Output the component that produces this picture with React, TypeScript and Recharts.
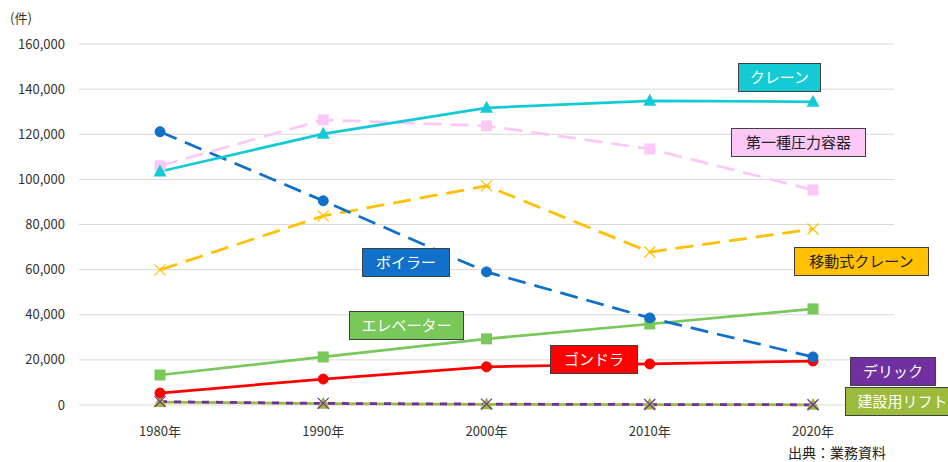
import React from 'react';
import { LineChart, Line, XAxis, YAxis, CartesianGrid } from 'recharts';

const years = ['1980年', '1990年', '2000年', '2010年', '2020年'];
const crane = [103500, 120200, 131700, 134800, 134400];
const pressureVessel = [106000, 126400, 123700, 113500, 95300];
const boiler = [121100, 90500, 59000, 38600, 21300];
const mobileCrane = [59900, 83800, 97100, 67800, 78000];
const elevator = [13300, 21300, 29300, 35900, 42600];
const gondola = [5300, 11500, 16900, 18200, 19500];
const derrick = [1500, 700, 400, 200, 100];
const lift = [1300, 600, 300, 200, 100];
const yTicks = [0, 20000, 40000, 60000, 80000, 100000, 120000, 140000, 160000];

const data = years.map((year, i) => ({
  year,
  crane: crane[i],
  pressureVessel: pressureVessel[i],
  boiler: boiler[i],
  mobileCrane: mobileCrane[i],
  elevator: elevator[i],
  gondola: gondola[i],
  derrick: derrick[i],
  lift: lift[i],
}));

const FONT = '"Noto Sans CJK JP", "Noto Sans", sans-serif';

type Shape = 'circle' | 'square' | 'triangle' | 'cross';

function makeDot(shape: Shape, color: string) {
  return (props: any) => {
    const { cx, cy, index } = props;
    const key = `${shape}-${color}-${index}`;
    if (cx == null || cy == null) return <g key={key} />;
    if (shape === 'circle') return <circle key={key} cx={cx} cy={cy} r={5} fill={color} stroke={color} />;
    if (shape === 'square') return <rect key={key} x={cx - 5.5} y={cy - 5.5} width={11} height={11} fill={color} />;
    if (shape === 'triangle')
      return (
        <polygon
          key={key}
          points={`${cx},${cy - 7} ${cx - 6.5},${cy + 5} ${cx + 6.5},${cy + 5}`}
          fill={color}
        />
      );
    return (
      <g key={key} stroke={color} strokeWidth={1.2}>
        <line x1={cx - 5.5} y1={cy - 5.5} x2={cx + 5.5} y2={cy + 5.5} />
        <line x1={cx - 5.5} y1={cy + 5.5} x2={cx + 5.5} y2={cy - 5.5} />
      </g>
    );
  };
}

const labels = [
  { text: 'クレーン', left: 738, top: 63, width: 83, bg: '#14CAD5', color: '#fff' },
  { text: '第一種圧力容器', left: 731, top: 128, width: 135, bg: '#FCC8F8', color: '#222' },
  { text: '移動式クレーン', left: 794, top: 247, width: 135, bg: '#FFC000', color: '#222' },
  { text: 'ボイラー', left: 362, top: 248, width: 88, bg: '#1170C9', color: '#fff' },
  { text: 'エレベーター', left: 349, top: 311, width: 115, bg: '#78C85A', color: '#fff' },
  { text: 'ゴンドラ', left: 550, top: 345, width: 88, bg: '#FF0000', color: '#fff' },
  { text: 'デリック', left: 850, top: 357, width: 86, bg: '#7030A0', color: '#fff' },
  { text: '建設用リフト', left: 845, top: 387, width: 115, bg: '#9CBB3C', color: '#fff' },
];

export default function App() {
  return (
    <div style={{ position: 'relative', width: 948, height: 462, background: '#fff', overflow: 'hidden', fontFamily: FONT }}>
      <style>{'body{margin:0}'}</style>
      <LineChart width={948} height={462} data={data} margin={{ top: 44, right: 54, left: 0, bottom: 0 }}>
        <CartesianGrid vertical={false} stroke="#d9d9d9" strokeWidth={1} />
        <XAxis
          dataKey="year"
          axisLine={false}
          tickLine={false}
          height={57}
          padding={{ left: 81, right: 81 }}
          tickMargin={16}
          tick={{ fill: '#333', fontSize: 13, fontFamily: FONT }}
        />
        <YAxis
          width={79}
          domain={[0, 160000]}
          ticks={yTicks}
          axisLine={false}
          tickLine={false}
          tickMargin={8}
          tickFormatter={(v: number) => v.toLocaleString('en-US')}
          tick={{ fill: '#333', fontSize: 13, fontFamily: FONT }}
        />
        <Line type="linear" dataKey="lift" stroke="#9CBB3C" strokeWidth={2.75} dot={makeDot('triangle', '#9CBB3C')} isAnimationActive={false} />
        <Line type="linear" dataKey="derrick" stroke="#7030A0" strokeWidth={2.75} strokeDasharray="7 7" dot={makeDot('cross', '#7030A0')} isAnimationActive={false} />
        <Line type="linear" dataKey="gondola" stroke="#FF0000" strokeWidth={2.75} dot={makeDot('circle', '#FF0000')} isAnimationActive={false} />
        <Line type="linear" dataKey="elevator" stroke="#78C85A" strokeWidth={2.75} dot={makeDot('square', '#78C85A')} isAnimationActive={false} />
        <Line type="linear" dataKey="mobileCrane" stroke="#FFC000" strokeWidth={2.75} strokeDasharray="18 9" dot={makeDot('cross', '#FFC000')} isAnimationActive={false} />
        <Line type="linear" dataKey="boiler" stroke="#1170C9" strokeWidth={2.75} strokeDasharray="18 9" dot={makeDot('circle', '#1170C9')} isAnimationActive={false} />
        <Line type="linear" dataKey="pressureVessel" stroke="#FCC8F8" strokeWidth={2.75} strokeDasharray="18 9" dot={makeDot('square', '#FCC8F8')} isAnimationActive={false} />
        <Line type="linear" dataKey="crane" stroke="#14CAD5" strokeWidth={2.75} dot={makeDot('triangle', '#14CAD5')} isAnimationActive={false} />
      </LineChart>
      <div style={{ position: 'absolute', left: 10, top: 8, fontSize: 13, color: '#333' }}>(件)</div>
      <div style={{ position: 'absolute', left: 788, top: 442, fontSize: 14, color: '#222' }}>出典：業務資料</div>
      {labels.map((l) => (
        <div
          key={l.text}
          style={{
            position: 'absolute',
            left: l.left,
            top: l.top,
            width: l.width,
            height: 29,
            boxSizing: 'border-box',
            background: l.bg,
            color: l.color,
            border: '1.5px solid #404040',
            fontSize: 15,
            lineHeight: '26px',
            textAlign: 'center',
            whiteSpace: 'nowrap',
            overflow: 'hidden',
          }}
        >
          {l.text}
        </div>
      ))}
    </div>
  );
}
